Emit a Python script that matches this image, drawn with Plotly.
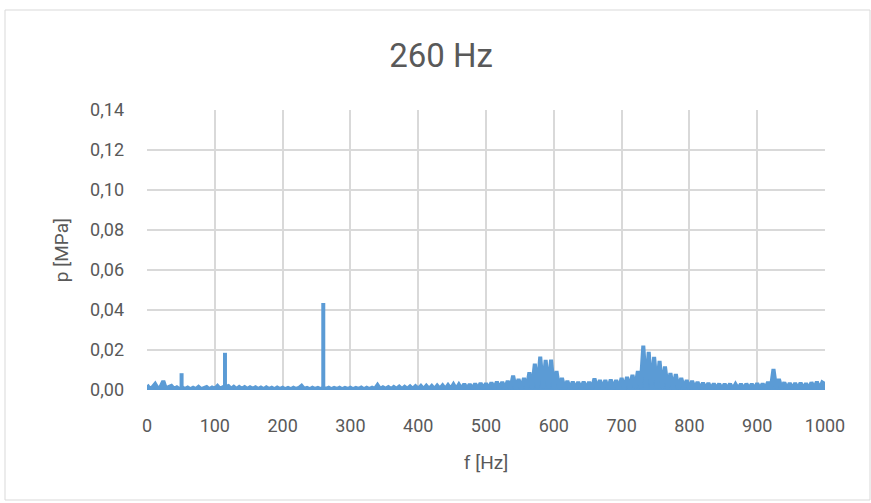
import numpy as np
import plotly.graph_objects as go

# Frequency grid [Hz] of the broadband spectrum (4 Hz spacing)
freq = np.arange(0, 1001, 4)

# Broadband pressure amplitude [MPa]
pressure = [
    0.0025, 0.0006, 0.0014, 0.0030, 0.0007, 0.0016, 0.0045, 0.0005, 0.0015, 0.0021,
    0.0006, 0.0013, 0.0004, 0.0012, 0.0005, 0.0012, 0.0004, 0.0011, 0.0005, 0.0016,
    0.0004, 0.0012, 0.0015, 0.0004, 0.0012, 0.0006, 0.0020, 0.0005, 0.0014, 0.0016,
    0.0020, 0.0006, 0.0016, 0.0005, 0.0015, 0.0006, 0.0014, 0.0005, 0.0013, 0.0006,
    0.0013, 0.0005, 0.0012, 0.0004, 0.0013, 0.0005, 0.0011, 0.0004, 0.0012, 0.0005,
    0.0011, 0.0004, 0.0010, 0.0004, 0.0011, 0.0005, 0.0010, 0.0021, 0.0005, 0.0010,
    0.0004, 0.0011, 0.0005, 0.0010, 0.0004, 0.0010, 0.0006, 0.0011, 0.0004, 0.0010,
    0.0005, 0.0011, 0.0004, 0.0010, 0.0005, 0.0011, 0.0004, 0.0010, 0.0005, 0.0012,
    0.0004, 0.0011, 0.0005, 0.0012, 0.0006, 0.0025, 0.0005, 0.0013, 0.0006, 0.0014,
    0.0005, 0.0015, 0.0006, 0.0017, 0.0005, 0.0016, 0.0006, 0.0018, 0.0005, 0.0019,
    0.0006, 0.0020, 0.0005, 0.0021, 0.0006, 0.0020, 0.0005, 0.0022, 0.0006, 0.0023,
    0.0005, 0.0024, 0.0006, 0.0028, 0.0005, 0.0027, 0.0006, 0.0030, 0.0005, 0.0029,
    0.0006, 0.0032, 0.0005, 0.0035, 0.0006, 0.0033, 0.0005, 0.0037, 0.0006, 0.0041,
    0.0006, 0.0040, 0.0005, 0.0045, 0.0006, 0.0072, 0.0005, 0.0055, 0.0006, 0.0060,
    0.0006, 0.0088, 0.0007, 0.0132, 0.0008, 0.0167, 0.0009, 0.0150, 0.0008, 0.0152,
    0.0007, 0.0095, 0.0006, 0.0060, 0.0005, 0.0045, 0.0006, 0.0042, 0.0005, 0.0040,
    0.0006, 0.0041, 0.0005, 0.0040, 0.0006, 0.0058, 0.0005, 0.0050, 0.0006, 0.0049,
    0.0005, 0.0052, 0.0006, 0.0050, 0.0005, 0.0060, 0.0006, 0.0065, 0.0007, 0.0075,
    0.0008, 0.0095, 0.0009, 0.0222, 0.0010, 0.0190, 0.0009, 0.0165, 0.0008, 0.0145,
    0.0007, 0.0118, 0.0006, 0.0085, 0.0006, 0.0080, 0.0005, 0.0060, 0.0006, 0.0050,
    0.0005, 0.0045, 0.0006, 0.0040, 0.0005, 0.0036, 0.0006, 0.0034, 0.0005, 0.0032,
    0.0006, 0.0031, 0.0005, 0.0030, 0.0006, 0.0031, 0.0005, 0.0029, 0.0006, 0.0030,
    0.0005, 0.0031, 0.0006, 0.0030, 0.0005, 0.0033, 0.0006, 0.0032, 0.0005, 0.0040,
    0.0006, 0.0105, 0.0007, 0.0055, 0.0006, 0.0038, 0.0005, 0.0035, 0.0006, 0.0034,
    0.0005, 0.0036, 0.0006, 0.0033, 0.0005, 0.0038, 0.0006, 0.0042, 0.0005, 0.0038,
    0.0030,
]

# Discrete narrow-band peaks [Hz] and their amplitudes [MPa]
peak_freq = [51, 115, 260]
peak_p = [0.0084, 0.0186, 0.0435]

x_ticks = [0, 100, 200, 300, 400, 500, 600, 700, 800, 900, 1000]
y_ticks = [0.0, 0.02, 0.04, 0.06, 0.08, 0.10, 0.12, 0.14]
y_labels = ["0,00", "0,02", "0,04", "0,06", "0,08", "0,10", "0,12", "0,14"]

FONT = "Roboto, Lato, sans-serif"
TXT = "#595959"
GRID = "#d9d9d9"
BLUE = "#5b9bd5"

fig = go.Figure()
fig.add_trace(go.Scatter(
    x=freq, y=pressure, mode="lines", fill="tozeroy", fillcolor=BLUE,
    line=dict(color=BLUE, width=4),
    showlegend=False, hoverinfo="x+y",
))

sx, sy = [], []
for f, p in zip(peak_freq, peak_p):
    sx += [f, f, None]
    sy += [0, p, None]
fig.add_trace(go.Scatter(
    x=sx, y=sy, mode="lines", line=dict(color=BLUE, width=4),
    showlegend=False, hoverinfo="skip",
))

W, H = 871, 503
L, R, T, B = 147, 46, 110, 113
pw, ph = W - L - R, H - T - B

fig.update_layout(
    width=W, height=H,
    margin=dict(l=L, r=R, t=T, b=B),
    paper_bgcolor="white", plot_bgcolor="white",
    font=dict(family=FONT, color=TXT, size=18),
    title=dict(text="260 Hz", x=441 / W, xanchor="center",
               y=1 - 55 / H, yanchor="middle",
               font=dict(size=33, color=TXT, family=FONT)),
    xaxis=dict(
        range=[0, 1000], tickvals=x_ticks, ticktext=[str(v) for v in x_ticks],
        showgrid=True, gridcolor=GRID, gridwidth=1.5, zeroline=False,
        showline=False, ticks="", ticklabelstandoff=23,
        title=dict(text="f [Hz]", standoff=20, font=dict(size=19)),
        tickfont=dict(size=18),
    ),
    yaxis=dict(
        range=[0, 0.14], tickvals=y_ticks, ticktext=y_labels,
        showgrid=True, gridcolor=GRID, gridwidth=1.5, zeroline=False,
        showline=False, ticks="", ticklabelstandoff=22,
        title=dict(text="p [MPa]", standoff=16, font=dict(size=19)),
        tickfont=dict(size=18),
    ),
)

# outer chart-area border
fig.add_shape(
    type="rect", xref="paper", yref="paper", layer="below",
    x0=(5 - L) / pw, x1=(870 - L) / pw,
    y0=(H - B - 500) / ph, y1=(H - B - 10) / ph,
    line=dict(color=GRID, width=1), fillcolor="rgba(0,0,0,0)",
)

fig.write_html("out.html")
